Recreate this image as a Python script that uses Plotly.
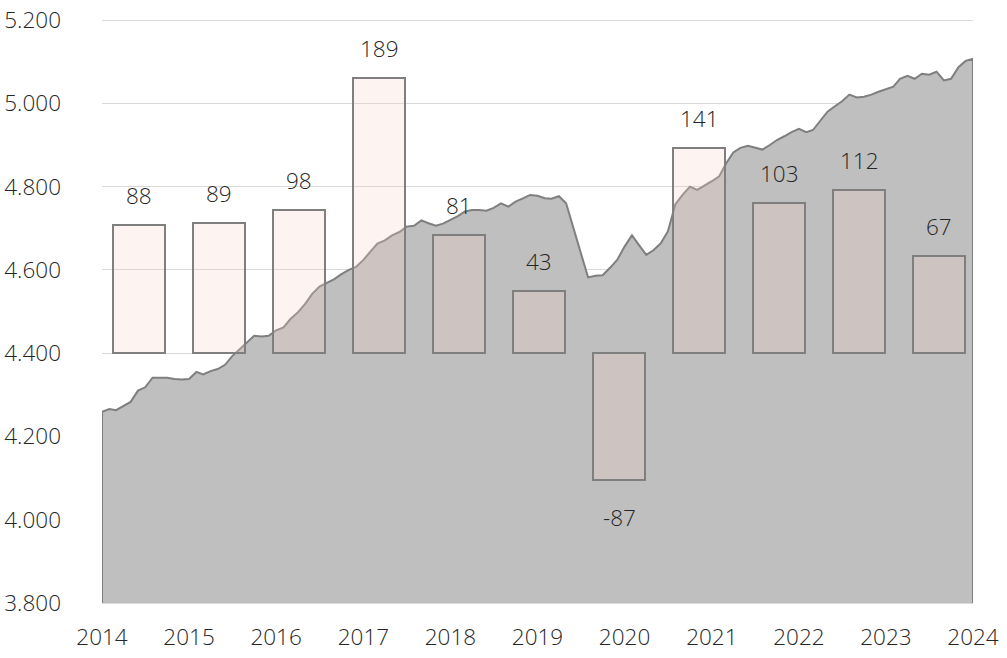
import plotly.graph_objects as go
import pandas as pd

# Monthly series (Jan 2014 .. Jan 2024)
months = pd.date_range("2014-01-01", "2024-01-01", freq="MS")
area_values = [
    4259, 4266, 4263, 4273, 4283, 4310, 4318, 4341, 4341, 4341, 4338, 4337,
    4338, 4355, 4349, 4357, 4362, 4372, 4393, 4410, 4425, 4442, 4440, 4442,
    4455, 4462, 4482, 4498, 4518, 4543, 4560, 4569, 4578, 4590, 4600, 4607,
    4624, 4645, 4663, 4671, 4683, 4691, 4704, 4706, 4719, 4712, 4706, 4711,
    4720, 4729, 4740, 4744, 4744, 4742, 4749, 4760, 4752, 4764, 4772, 4780,
    4778, 4772, 4771, 4777, 4760, 4700, 4640, 4582, 4586, 4587, 4605, 4624,
    4656, 4683, 4660, 4636, 4647, 4664, 4693, 4758, 4781, 4800, 4792, 4802,
    4813, 4825, 4855, 4882, 4893, 4898, 4894, 4889, 4900, 4912, 4921, 4931,
    4939, 4931, 4936, 4958, 4980, 4993, 5005, 5021, 5014, 5016, 5021, 5028,
    5034, 5040, 5059, 5066, 5059, 5071, 5069, 5076, 5055, 5059, 5087, 5102,
    5107,
]

# Yearly changes (bars)
bar_labels = ["2014", "2015", "2016", "2017", "2018", "2019", "2020", "2021", "2022", "2023", "2024"]
bar_values = [88, 89, 98, 189, 81, 43, -87, 141, 103, 112, 67]
BAR_BASE = 4400
BAR_SCALE = 3.5

y_ticks = [3800, 4000, 4200, 4400, 4600, 4800, 5000, 5200]

FONT = "Open Sans"
TXT = "#262626"
FS = 22.5

fig = go.Figure()

# closed polygon for area (top line + vertical edges); bottom edge sits below the visible range
floor = y_ticks[0] - 20
poly_x = list(months) + [months[-1], months[0], months[0]]
poly_y = area_values + [floor, floor, area_values[0]]
fig.add_trace(go.Scatter(
    x=poly_x, y=poly_y, mode="lines", fill="toself",
    fillcolor="#bfbfbf", line=dict(color="#7f7f7f", width=2),
    hoverinfo="skip", showlegend=False, xaxis="x", yaxis="y",
))

idx = list(range(len(bar_values)))
fig.add_trace(go.Bar(
    x=idx, y=[v * BAR_SCALE for v in bar_values], base=BAR_BASE,
    width=0.65,
    marker=dict(color="rgba(247,207,195,0.25)", line=dict(color="#7f7f7f", width=2)),
    xaxis="x2", yaxis="y", showlegend=False, hoverinfo="skip",
))

for i, v in zip(idx, bar_values):
    top = BAR_BASE + v * BAR_SCALE
    fig.add_annotation(
        x=i, y=top, xref="x2", yref="y", text=str(v), showarrow=False,
        yanchor="bottom" if v >= 0 else "top",
        yshift=12 if v >= 0 else -20,
        font=dict(family=FONT, size=FS, color=TXT, weight=300),
    )

fig.update_layout(
    width=1007, height=658,
    margin=dict(l=102, r=34, t=18, b=55, autoexpand=False),
    paper_bgcolor="white", plot_bgcolor="white",
    separators=",.",
    font=dict(family=FONT, size=FS, color=TXT, weight=300),
    xaxis=dict(
        type="date", range=[months[0], months[-1]],
        tickvals=[pd.Timestamp(f"{y}-01-01") for y in bar_labels],
        ticktext=bar_labels,
        showgrid=False, zeroline=False, automargin=False,
        showline=True, linecolor="#d9d9d9", linewidth=1,
        ticks="", ticklabelstandoff=14, ticklabeloverflow="allow",
        tickfont=dict(family=FONT, size=FS, color=TXT, weight=300),
    ),
    xaxis2=dict(
        overlaying="x", range=[-0.4625, 10.425], visible=False,
    ),
    yaxis=dict(
        range=[3800, 5205], tickvals=y_ticks, tickformat=",d",
        showgrid=True, gridcolor="#d9d9d9", gridwidth=1, automargin=False,
        zeroline=False, showline=False, ticks="", ticklabelstandoff=40,
        ticklabeloverflow="allow",
        tickfont=dict(family=FONT, size=FS, color=TXT, weight=300),
    ),
    bargap=0,
)

fig.write_html(
    "out.html",
    config={"displayModeBar": False},
    post_script="document.body.style.margin='0';document.body.style.overflow='hidden';",
)
